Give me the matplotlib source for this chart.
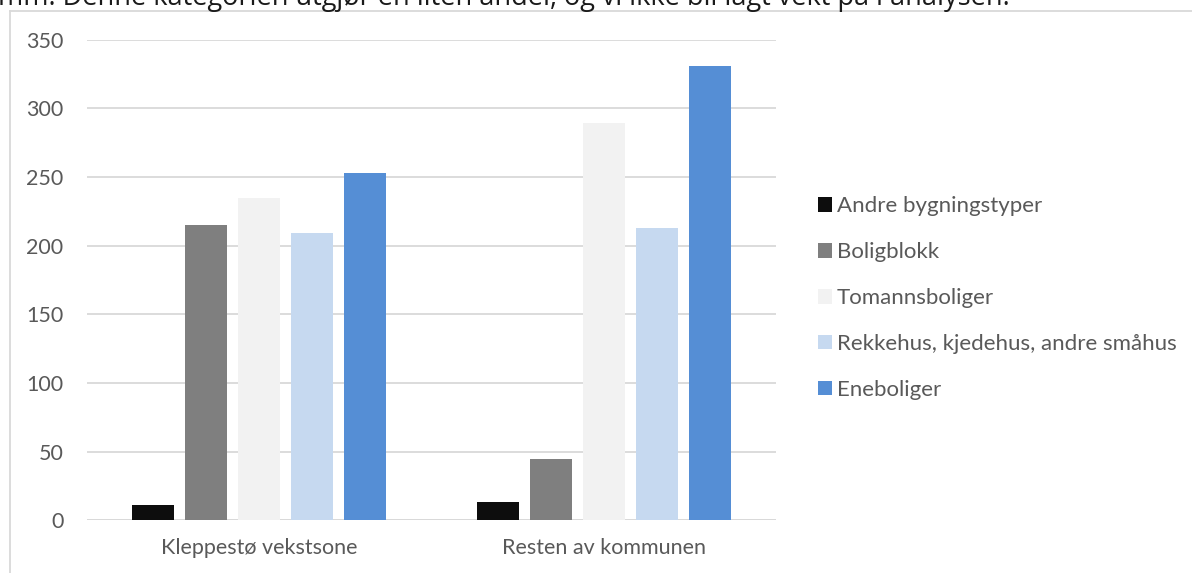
import matplotlib
matplotlib.use("Agg")
import matplotlib.pyplot as plt
from matplotlib.lines import Line2D
from matplotlib.patches import Patch
import numpy as np

plt.rcParams['font.family'] = ['Lato', 'DejaVu Sans']

categories = ["Kleppestø vekstsone", "Resten av kommunen"]
series_names = ["Andre bygningstyper", "Boligblokk", "Tomannsboliger",
                "Rekkehus, kjedehus, andre småhus", "Eneboliger"]
series_values = [
    [11, 13],
    [215, 45],
    [235, 289],
    [209, 213],
    [253, 331],
]
series_colors = ["#0d0d0d", "#7f7f7f", "#f2f2f2", "#c6d9f0", "#558ed5"]
yticks = [0, 50, 100, 150, 200, 250, 300, 350]
caption = "mm. Denne kategorien utgjør en liten andel, og vi ikke bli lagt vekt på i analysen."

text_color = "#595959"
grid_color = "#d9d9d9"

fig = plt.figure(figsize=(11.92, 5.73), dpi=100)
ax = fig.add_axes([87 / 1192, 52.7 / 573, 689 / 1192, 480.6 / 573])

x = np.arange(len(categories))
pitch = 0.1538
width = 0.122
n = len(series_names)
for i, (name, vals, col) in enumerate(zip(series_names, series_values, series_colors)):
    offs = (i - (n - 1) / 2) * pitch
    ax.bar(x + offs, vals, width=width, color=col, label=name, zorder=3)

ax.set_xlim(-0.5, 1.5)
ax.set_ylim(0, 350)
ax.set_yticks(yticks)
ax.set_xticks(x)
ax.set_xticklabels(categories)
ax.yaxis.grid(True, color=grid_color, linewidth=1.3, zorder=0)
for s in ax.spines.values():
    s.set_visible(False)
ax.tick_params(axis='both', length=0, labelsize=15.5, colors=text_color)
ax.tick_params(axis='y', pad=17)
ax.tick_params(axis='x', pad=13)
ax.axhline(0, color=grid_color, linewidth=1.3, zorder=2)

handles = [Patch(facecolor=c, edgecolor='none') for c in series_colors]
leg = fig.legend(handles, series_names, loc='upper left',
                 bbox_to_anchor=(818 / 1192, 1 - 196.5 / 573),
                 frameon=False, fontsize=16, labelcolor=text_color,
                 handlelength=0.63, handleheight=0.63, handletextpad=0.23,
                 labelspacing=1.16, borderaxespad=0, borderpad=0)

# frame of the chart area
fig.add_artist(Line2D([10 / 1192, 1], [1 - 11 / 573, 1 - 11 / 573],
                      color="#d9d9d9", linewidth=1.3, transform=fig.transFigure))
fig.add_artist(Line2D([10 / 1192, 10 / 1192], [0, 1 - 11 / 573],
                      color="#d9d9d9", linewidth=1.3, transform=fig.transFigure))

# running paragraph text above the chart
fig.text(-2 / 1192, 1 - 5 / 573, caption, fontsize=19.5, color="#1a1a1a",
         ha='left', va='baseline', family=['Open Sans', 'DejaVu Sans'])

fig.savefig("out.png", dpi=100)
